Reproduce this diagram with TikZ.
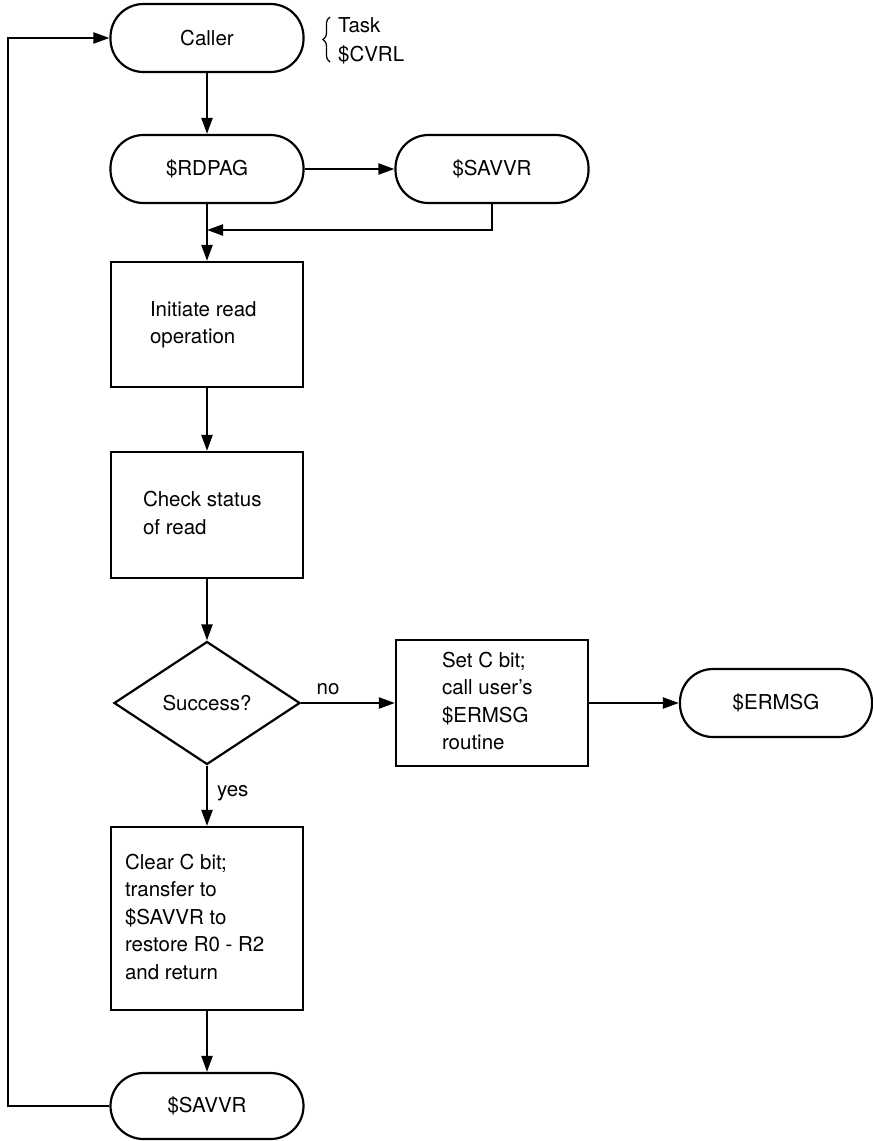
\documentclass[tikz,border=0pt]{standalone}
\usepackage{fontspec}
\setmainfont{TeX Gyre Heros}
\usetikzlibrary{arrows.meta,shapes.geometric,decorations.pathreplacing}
% left-aligned block of lines, indented by #1 inside a box of width #2
\newcommand\proctext[3]{\makebox[#2][l]{\hspace*{#1}\begin{tabular}{@{}l@{}}#3\end{tabular}}}
\begin{document}
\begin{tikzpicture}[x=1pt,y=-1pt,
  line width=2.2pt,
  >={Triangle[length=16pt,width=11pt]},
  every node/.style={font=\fontsize{20.5}{27.5}\selectfont},
  term/.style={draw, rectangle, rounded corners=33pt, minimum width=193pt,
               minimum height=68pt, inner sep=0pt},
  proc/.style={draw, rectangle, inner sep=0pt},
  decision/.style={draw, diamond, aspect=1.51, minimum width=186pt,
                   minimum height=123pt, inner sep=0pt},
  lbl/.style={inner sep=0pt}
]
\useasboundingbox (0,0) rectangle (873,1141);

% main column
\node[term] (caller) at (207,38) {Caller};
\node[term] (rdpag)  at (207,169) {\$RDPAG};
\node[term] (savvrA) at (492,169) {\$SAVVR};
\node[proc, minimum height=125pt] (init) at (207,324.5)
  {\proctext{39pt}{192pt}{Initiate read\\operation}};
\node[proc, minimum height=126pt] (check) at (207,515)
  {\proctext{32pt}{192pt}{Check status\\of read}};
\node[decision] (dia) at (207,703) {Success?};
\node[proc, minimum height=126pt] (setc) at (492,703)
  {\proctext{46pt}{192pt}{Set C bit;\\call user's\\\$ERMSG\\routine}};
\node[term, minimum width=192pt] (ermsg) at (776,703) {\$ERMSG};
\node[proc, minimum height=183pt] (clear) at (207,918.5)
  {\proctext{14pt}{192pt}{Clear C bit;\\transfer to\\\$SAVVR to\\restore R0 - R2\\and return}};
\node[term, minimum height=66pt] (savvrB) at (207,1106) {\$SAVVR};

% side note on the caller
\draw[line width=1.2pt, decorate, decoration={brace, amplitude=7pt}]
  (330,62) -- (330,17);
\node[lbl, anchor=west] (task) at (337,25) {Task};
\node[lbl, anchor=west] (cvrl) at (337,55) {\$CVRL};

% helper points
\coordinate (join)  at (207,230);
\coordinate (loopB) at (8,1106);
\coordinate (loopT) at (8,38);

% connectors
\draw[->] (caller.south) -- (rdpag.north);
\draw[->] (rdpag.east) -- (savvrA.west);
\draw[->] (savvrA.south) |- (join);
\draw[->] (rdpag.south) -- (init.north);
\draw[->] (init.south) -- (check.north);
\draw[->] (check.south) -- (dia.north);
\draw[->] (dia.east) -- (setc.west);
\draw[->] (setc.east) -- (ermsg.west);
\draw[->] (dia.south) -- (clear.north);
\draw[->] (clear.south) -- (savvrB.north);
\draw[->] (savvrB.west) -- (loopB) -- (loopT) -- (caller.west);

% branch labels
\node[lbl] (nolab) at (328,689) {no};
\node[lbl, anchor=west] (yeslab) at (216,793) {yes};
\end{tikzpicture}
\end{document}
